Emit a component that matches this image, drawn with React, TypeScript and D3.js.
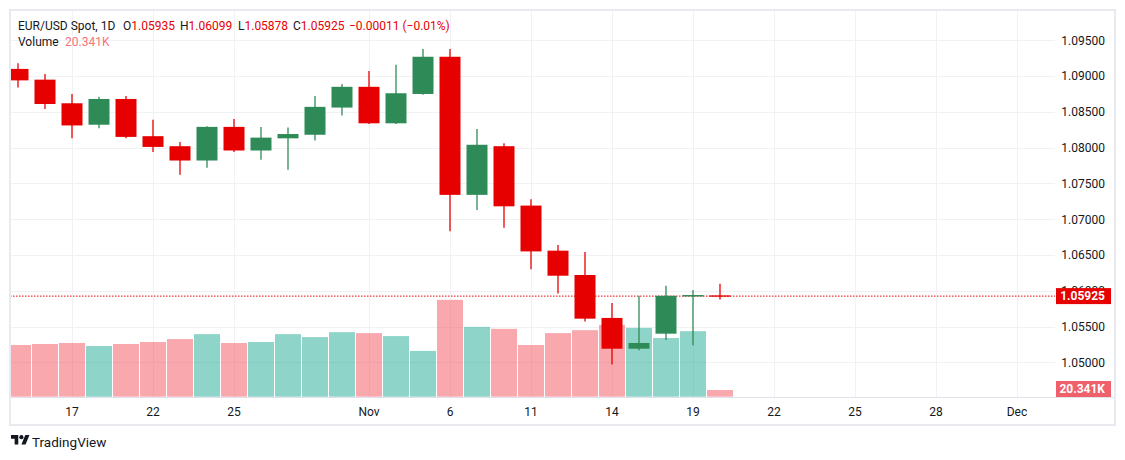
import React from 'react';
import * as d3 from 'd3';

// daily EUR/USD bars
const dates = [
  '2024-10-15', '2024-10-16', '2024-10-17', '2024-10-18', '2024-10-21', '2024-10-22', '2024-10-23',
  '2024-10-24', '2024-10-25', '2024-10-28', '2024-10-29', '2024-10-30', '2024-10-31', '2024-11-01',
  '2024-11-04', '2024-11-05', '2024-11-06', '2024-11-07', '2024-11-08', '2024-11-11', '2024-11-12',
  '2024-11-13', '2024-11-14', '2024-11-15', '2024-11-18', '2024-11-19', '2024-11-20',
];
const opens = [
  1.0910, 1.0895, 1.0862, 1.0832, 1.0868, 1.0816, 1.0802, 1.0782, 1.0829, 1.0796, 1.0813, 1.0818, 1.0856, 1.0885,
  1.0834, 1.0875, 1.0927, 1.0734, 1.0802, 1.0719, 1.0656, 1.0622, 1.0562, 1.0519, 1.0540, 1.0592, 1.05935,
];
const highs = [
  1.0918, 1.0903, 1.0875, 1.0871, 1.0872, 1.0839, 1.0808, 1.0830, 1.0840, 1.0829, 1.0828, 1.0872, 1.0889, 1.0907,
  1.0916, 1.0938, 1.0938, 1.0826, 1.0806, 1.0728, 1.0664, 1.0654, 1.0583, 1.0593, 1.0607, 1.0601, 1.06099,
];
const lows = [
  1.0884, 1.0854, 1.0813, 1.0827, 1.0813, 1.0794, 1.0762, 1.0772, 1.0794, 1.0783, 1.0769, 1.0810, 1.0845, 1.0833,
  1.0833, 1.0874, 1.0683, 1.0713, 1.0688, 1.0630, 1.0596, 1.0557, 1.0497, 1.0517, 1.0531, 1.0524, 1.05878,
];
const closes = [
  1.0894, 1.0861, 1.0831, 1.0868, 1.0815, 1.0801, 1.0782, 1.0829, 1.0796, 1.0814, 1.0819, 1.0857, 1.0885, 1.0834,
  1.0876, 1.0927, 1.0734, 1.0804, 1.0718, 1.0655, 1.0621, 1.0561, 1.0519, 1.0527, 1.0593, 1.0594, 1.05925,
];
// volume in thousands
const volumes = [
  157, 160, 163, 154, 160, 166, 175, 190, 163, 166, 190, 181, 196, 193,
  184, 139, 294, 212, 206, 157, 193, 202, 218, 209, 178, 199, 20.341,
];

const futureSlots = ['f1', 'f2', 'f3', 'f4', 'f5', 'f6', 'f7', 'f8', 'f9', 'f10', 'f11', 'f12'];
const tickSlots = ['2024-10-17', '2024-10-22', '2024-10-25', '2024-11-01', '2024-11-06', '2024-11-11', '2024-11-14', '2024-11-19', 'f2', 'f5', 'f8', 'f11'];
const tickLabels = ['17', '22', '25', 'Nov', '6', '11', '14', '19', '22', '25', '28', 'Dec'];
const priceTicks = [1.05, 1.055, 1.06, 1.065, 1.07, 1.075, 1.08, 1.085, 1.09, 1.095];

const UP = '#2e8b57';
const DOWN = '#e60000';
const FONT = 'Roboto, "Noto Sans", sans-serif';

export default function App() {
  const W = 1125, H = 460;
  const left = 10, right = 1115, top = 10, plotRight = 1055, axisTop = 397, bottom = 425;

  const x = d3.scaleBand<string>()
    .domain([...dates, ...futureSlots])
    .range([4.5, 4.5 + 27 * (dates.length + futureSlots.length)])
    .padding(0);
  const cx = (d: string) => (x(d) as number) + x.bandwidth() / 2;

  const y = d3.scaleLinear().domain([1.05, 1.095]).range([362.3, 40.3]);
  const yVol = d3.scaleLinear().domain([0, 300]).range([396.7, 396.7 - 300 / 3.036]);

  const last = dates.length - 1;
  const lastClose = closes[last];

  return (
    <svg width={W} height={H} style={{ display: 'block', position: 'absolute', left: 0, top: 0 }} fontFamily={FONT}>
      <defs>
        <clipPath id="pane">
          <rect x={left + 1} y={top + 1} width={plotRight - left - 1} height={axisTop - top - 1} />
        </clipPath>
      </defs>
      <rect x={0} y={0} width={W} height={H} fill="#fff" />

      {/* grid */}
      <g stroke="#f0f1f5" strokeWidth={1}>
        {priceTicks.map(p => (
          <line key={p} x1={left} x2={plotRight} y1={Math.round(y(p)) + 0.5} y2={Math.round(y(p)) + 0.5} />
        ))}
        {tickSlots.map(s => (
          <line key={s} x1={Math.round(cx(s)) + 0.5} x2={Math.round(cx(s)) + 0.5} y1={top} y2={axisTop} />
        ))}
      </g>

      <g clipPath="url(#pane)">
        {/* volume */}
        {dates.map((d, i) => (
          <rect key={'v' + d} x={cx(d) - 13} width={26} y={yVol(volumes[i])} height={yVol(0) - yVol(volumes[i])}
            fill={closes[i] >= opens[i] ? '#1fa993' : '#f3515d'} fillOpacity={0.5} />
        ))}

        {/* current price line */}
        <line x1={left} x2={plotRight} y1={y(lastClose)} y2={y(lastClose)} stroke={DOWN} strokeWidth={1} strokeDasharray="1.5 1.5" />

        {/* candles */}
        {dates.map((d, i) => {
          const c = closes[i] >= opens[i] ? UP : DOWN;
          const yt = y(Math.max(opens[i], closes[i]));
          const yb = y(Math.min(opens[i], closes[i]));
          return (
            <g key={'c' + d}>
              <line x1={cx(d)} x2={cx(d)} y1={y(highs[i])} y2={y(lows[i])} stroke={c} strokeWidth={1.3} />
              <rect x={cx(d) - 10.5} width={21} y={yt} height={Math.max(1.3, yb - yt)} fill={c} />
            </g>
          );
        })}
      </g>

      {/* price axis */}
      <g fontSize={12} fill="#131722" textAnchor="end">
        {priceTicks.map(p => (
          <text key={p} x={1105} y={y(p)} dy="0.36em">{p.toFixed(5)}</text>
        ))}
      </g>
      <rect x={1056} y={y(lastClose) - 8} width={55} height={16} fill={DOWN} />
      <text x={1105} y={y(lastClose)} dy="0.36em" textAnchor="end" fontSize={12} fontWeight="bold" fill="#fff">
        {lastClose.toFixed(5)}
      </text>
      <rect x={1056} y={381} width={55} height={16} fill="#f0606a" />
      <text x={1105} y={389} dy="0.36em" textAnchor="end" fontSize={12} fontWeight="bold" fill="#fff">
        {volumes[last].toFixed(3)}K
      </text>

      {/* time axis */}
      <line x1={left} x2={right} y1={axisTop + 0.5} y2={axisTop + 0.5} stroke="#e0e3eb" />
      <g fontSize={12} fill="#131722" textAnchor="middle">
        {tickSlots.map((s, i) => (
          <text key={s} x={cx(s)} y={415.5}>{tickLabels[i]}</text>
        ))}
      </g>

      {/* frame */}
      <rect x={left} y={top} width={right - left} height={bottom - top} fill="none" stroke="#e9eaf0" strokeWidth={2} />

      {/* legend */}
      <g fontSize={12} fill="#131722">
        <text y={29.5}>
          <tspan x={18}>EUR/USD Spot, 1D</tspan>
          <tspan x={123}>O</tspan><tspan fill={DOWN}>{opens[last].toFixed(5)}</tspan>
          <tspan x={180}>H</tspan><tspan fill={DOWN}>{highs[last].toFixed(5)}</tspan>
          <tspan x={238}>L</tspan><tspan fill={DOWN}>{lows[last].toFixed(5)}</tspan>
          <tspan x={293}>C</tspan><tspan fill={DOWN}>{closes[last].toFixed(5)}</tspan>
          <tspan x={349} fill={DOWN}>−0.00011 (−0.01%)</tspan>
        </text>
        <text y={45.7}>
          <tspan x={18}>Volume</tspan>
          <tspan x={65} fill="#f7727c">{volumes[last].toFixed(3)}K</tspan>
        </text>
      </g>

      {/* TradingView mark */}
      <g transform="translate(11,433) scale(0.52)" fill="#131722">
        <path d="M14 22H7V11H0V4h14v18z" />
        <circle cx={20} cy={8} r={4} />
        <path d="M28 22h-8l7.5-18h8L28 22z" />
      </g>
      <text x={32} y={446.5} fontSize={13.5} fill="#131722">TradingView</text>
    </svg>
  );
}
